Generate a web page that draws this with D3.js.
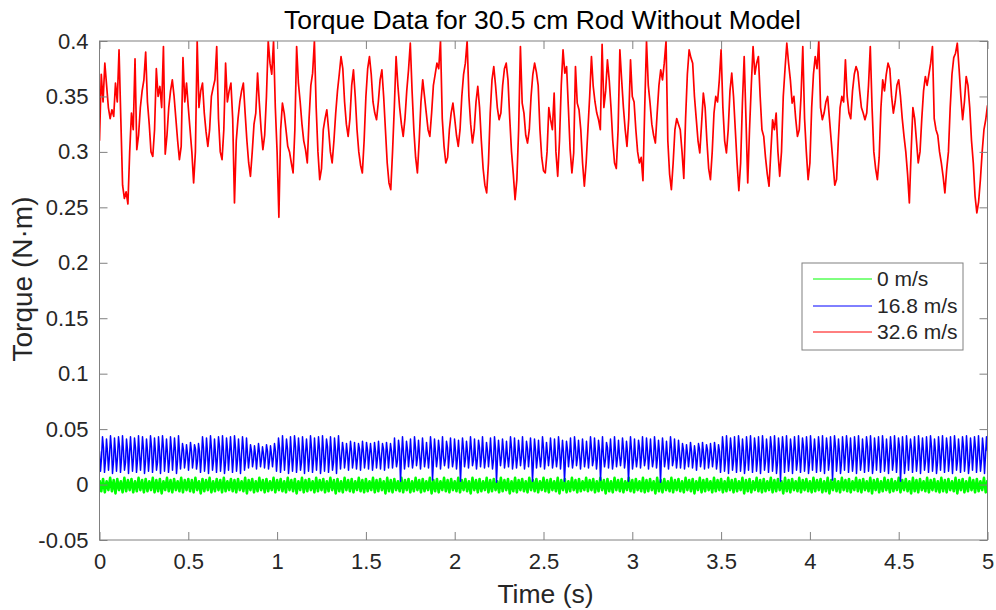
<!DOCTYPE html>
<html>
<head>
<meta charset="utf-8">
<script src="https://cdn.jsdelivr.net/npm/d3@7"></script>
<style>
  body { margin: 0; background: #fff; }
  svg { display: block; font-family: "Liberation Sans", Arial, Helvetica, sans-serif; }
</style>
</head>
<body>
<div id="chart"></div>
<script>
// Data (torque in mN·m, samples evenly spaced from 0 to 5 s)
const timeEnd = 5
const xTicks = [0, 0.5, 1, 1.5, 2, 2.5, 3, 3.5, 4, 4.5, 5]
const yTicks = [-0.05, 0, 0.05, 0.1, 0.15, 0.2, 0.25, 0.3, 0.35, 0.4]
const seriesNames = ['0 m/s', '16.8 m/s', '32.6 m/s']
const seriesColors = ['#00ff00', '#0000ff', '#ff0000']

const torque0 = [
  4,-6,5,-7,3,-5,6,-6,4,-8,5,-5,3,-7,6,-6,4,-5,5,-7,3,-6,6,-5,4,
  -7,5,-6,3,-5,6,-7,4,-6,5,-8,3,-5,6,-6,4,-7,5,-5,3,-6,6,-7,4,-5,
  5,-6,4,-7,6,-5,3,-8,5,-6,4,-5,6,-7,3,-6,5,-5,4,-7,6,-6,3,-5,5,
  -6,4,-7,5,-5,3,-6,6,-8,4,-5,5,-7,3,-6,6,-5,4,-7,5,-6,3,-5,6,-7,
  4,-5,5,-6,3,-7,6,-5,4,-6,5,-8,3,-5,6,-7,4,-6,5,-5,3,-7,6,-6,4,
  -5,5,-7,3,-6,6,-5,4,-8,5,-6,3,-7,6,-5,4,-6,5,-7,3,-5,6,-6,4,-7,
  5,-6,3,-5,6,-7,4,-6,5,-5,3,-8,6,-6,4,-7,5,-5,3,-6,6,-7,4,-5,5,
  -7,3,-6,6,-5,4,-7,5,-6,3,-5,6,-8,4,-6,5,-7,3,-5,6,-6,4,-7,5,-5,
  3,-6,6,-7,4,-5,5,-6,3,-8,6,-5,4,-7,5,-6,3,-5,6,-7,4,-6,5,-5,3,
  -7,6,-6,4,-5,5,-8,3,-6,6,-7,4,-5,5,-6,3,-7,6,-5,4,-6,5,-7,3,-5,
  6,-6,4,-7,5,-5,3,-6,6,-8,4,-5,5,-7,3,-6,6,-5,4,-7,5,-6,3,-5,6,
  -6,4,-5,5,-7,3,-6,6,-5,4,-8,5,-6,3,-7,6,-5,4,-6,5,-7,3,-5,6,-6,
  4,-7,5,-5,3,-6,6,-7,4,-6,5,-5,3,-8,6,-6,4,-7,5,-5,3,-6,6,-7,4,
  -5,5,-6,3,-7,6,-5,4,-6,5,-8,3,-5,6,-7,4,-6,5,-5,3,-7,6,-6,4,-5,
  5,-7,3,-6,6,-5,4,-7,5,-6,3,-5,6,-8,4,-6,5,-7,3,-5,6,-6,4,-7,5,
  -6,3,-5,6,-7,4,-6,5,-5,3,-8,6,-6,4,-7,5,-5,3,-6,6,-7,4,-5,5,-6,
  3,-7,6,-6,4,-5,5,-7,3,-6,6,-8,4,-5,5,-6,3,-7,6,-5,4,-6,5,-7,3,
  -5,6,-6,4,-7,5,-5,3,-6,6,-8,4,-5,5,-7,3,-6,6,-5,4,-7,5,-6,3,-5,
  6,-7,4,-5,5,-6,3,-8,6,-6,4,-7,5,-5,3,-6,6,-7,4,-5,5,-6,3,-7,6,
  -6,4,-7,5,-5,3,-6,6,-8,4,-5,5,-7,3,-6,6,-5,4,-7,5,-6,3,-5,6,-7,
  4
]

// four samples per pulse: falling, low, rising, peak
const torque16 = [
  30,12,24,43, 33,11,22,41, 29,13,26,44, 32,10,21,42, 28,12,25,43, 34,11,23,44, 30,13,20,41, 31,10,27,43,
  29,12,24,42, 33,11,22,44, 28,13,26,43, 32,10,21,41, 30,12,25,44, 34,11,23,42, 29,13,20,43, 31,10,27,44,
  33,12,24,41, 28,11,22,43, 32,13,26,42, 30,10,21,44,
  29,14,24,37, 31,15,22,36, 28,13,25,38, 30,15,23,36, 32,14,21,37,
  30,11,24,43, 33,12,22,42, 29,10,26,44, 32,13,21,41, 28,11,25,43, 34,12,23,44, 30,10,20,42, 31,13,27,43,
  29,11,24,44, 33,12,22,41, 28,10,26,43, 32,13,21,42,
  28,15,24,36, 30,16,22,35, 27,14,25,37, 29,16,23,34, 28,15,24,36, 30,14,22,35, 27,16,25,37,
  30,12,24,42, 33,11,22,44, 29,13,26,41, 32,10,21,43, 28,12,25,44, 34,11,23,42, 30,13,20,43, 31,10,27,41,
  29,12,24,44, 33,11,22,42, 28,13,26,43, 32,10,21,44, 30,12,25,41, 34,11,23,43, 29,13,20,42, 31,10,27,44,
  29,14,25,38, 31,15,23,37, 28,13,26,39, 30,15,22,38, 27,14,24,37, 32,13,25,39, 29,15,23,38, 31,14,26,37,
  28,13,22,38, 30,15,24,39, 27,14,25,37, 32,13,23,38, 29,15,26,37,
  30,15,24,42, 27,16,22,40, 32,3,25,43, 29,14,23,39, 31,16,26,41, 26,15,22,43, 33,17,24,40, 28,14,25,42,
  30,16,23,38, 27,15,26,43, 32,4,22,41, 29,16,24,40, 31,14,25,43, 26,17,23,39, 33,15,26,42, 28,16,22,41,
  30,14,24,40, 27,3,25,42, 32,16,23,39, 29,15,26,43, 31,17,22,41, 26,14,24,40, 33,16,25,43, 28,15,23,38,
  30,16,26,42, 27,14,22,43, 32,2,24,40, 29,17,25,41, 31,15,23,39, 26,16,26,43, 33,14,22,42, 28,15,24,40,
  30,17,25,43, 27,14,23,39, 32,16,26,42, 29,3,22,41, 31,15,24,40, 26,16,25,43, 33,14,23,38, 28,17,26,42,
  30,15,22,41, 27,16,24,43, 32,14,25,40, 29,3,23,39, 31,16,26,42, 26,15,22,43, 33,17,24,40, 28,14,25,41,
  30,16,23,39, 27,15,26,43, 32,17,22,42, 29,14,24,40, 31,4,25,43, 26,16,23,38, 33,15,26,41, 28,14,22,43,
  30,16,24,40, 27,17,25,42, 32,15,23,39, 29,3,26,43, 31,14,22,41, 26,16,24,40, 33,15,25,43, 28,17,23,42,
  30,14,26,41, 27,16,22,43, 32,15,24,40, 29,2,25,42, 31,16,23,39, 26,14,26,43, 33,17,22,41, 28,15,24,40,
  29,15,24,37, 31,14,22,36, 28,16,25,38, 30,15,23,35, 27,13,24,37, 32,16,22,38, 29,14,25,36, 31,15,23,37,
  28,16,24,38, 30,14,22,36,
  30,11,24,43, 33,12,22,44, 29,10,26,42, 32,13,21,43, 28,11,25,44, 34,12,23,41, 30,10,20,43, 31,13,27,44,
  29,11,24,42, 33,12,22,43, 28,10,26,44, 32,13,21,41, 30,11,25,43, 34,12,23,44, 29,10,20,42, 31,3,27,43,
  33,11,24,44, 28,12,22,41, 32,10,26,43, 30,13,21,44, 29,11,25,42, 34,12,23,43, 30,10,20,44, 31,13,27,41,
  29,11,24,43, 33,12,22,44, 28,10,26,42, 32,13,21,43, 30,4,25,44, 34,12,23,41, 29,10,20,43, 31,13,27,44,
  33,11,24,42, 28,12,22,43, 32,10,26,44, 30,13,21,41, 29,11,25,43, 34,12,23,44, 30,10,20,42, 31,13,27,43,
  29,11,24,44, 33,12,22,41, 28,10,26,43, 32,13,21,44, 30,11,25,42, 34,3,23,43, 29,10,20,44, 31,13,27,41,
  33,11,24,43, 28,12,22,44, 32,10,26,42, 30,13,21,43, 29,11,25,44, 34,12,23,41, 30,10,20,43, 31,13,27,44,
  29,11,24,42, 33,12,22,43, 28,10,26,44, 32,13,21,41, 30,11,25,43, 34,12,23,44, 29,10,20,42, 31,13,27,43,
  33,11,24,44, 28,12,22,42, 32,10,26,43,
  30
]

const torque32 = [
  310,370,345,380,360,340,330,338,332,362,345,392,330,270,258,264,253,300,335,320,384,302,315,340,355,
  365,390,345,325,300,296,320,375,350,359,340,395,298,315,340,355,365,350,330,310,293,305,385,345,362,
  340,320,300,272,300,400,340,355,362,335,318,305,320,350,358,365,395,330,300,293,320,380,345,355,362,
  330,254,310,330,345,355,362,335,310,290,278,300,325,335,371,344,320,302,315,350,400,380,370,400,340,
  300,241,320,344,335,320,305,300,290,281,320,395,362,345,325,310,302,290,330,360,371,400,340,300,275,
  285,320,330,338,320,300,290,310,335,355,370,386,375,345,325,314,330,360,374,350,320,300,288,281,310,
  350,375,386,370,345,335,329,345,365,374,350,320,290,272,266,300,340,386,360,340,325,314,330,355,374,
  398,355,320,295,281,310,345,365,350,335,320,314,335,360,370,380,375,400,330,305,290,295,320,335,344,
  330,315,305,320,350,370,380,400,350,325,308,320,345,359,340,310,285,270,263,290,335,365,377,360,340,
  329,335,360,375,380,365,330,300,280,257,275,320,395,344,335,315,308,320,350,370,380,372,360,320,295,
  283,281,300,340,329,320,353,300,278,310,360,392,371,377,340,302,281,299,377,344,338,320,290,269,290,
  320,350,386,359,345,335,329,320,397,340,355,383,365,340,310,290,285,320,392,365,340,320,305,330,383,
  350,345,320,300,290,295,274,340,400,360,344,325,315,308,335,360,374,365,380,400,310,280,266,290,320,
  330,325,320,300,276,330,370,392,385,380,350,330,310,299,325,353,340,310,285,275,300,335,350,345,365,
  392,340,310,299,320,355,371,350,320,290,265,290,344,386,330,272,320,360,395,370,380,386,350,320,314,
  295,280,269,300,329,320,335,300,278,300,350,375,398,380,365,344,350,330,314,320,350,395,330,300,275,
  290,340,370,386,375,400,340,329,335,345,350,330,310,290,270,275,310,340,350,345,383,350,335,330,355,
  370,377,372,355,340,335,329,335,360,395,340,300,285,275,295,340,365,355,370,380,375,350,335,345,360,
  365,350,330,314,300,280,254,300,340,330,310,290,300,330,355,368,360,370,380,395,330,320,315,300,290,
  278,263,284,300,340,370,385,389,398,375,350,329,345,368,360,340,310,290,260,245,255,275,300,320,329,342
]

function draw() {
  const dimensions = {
    width: 996,
    height: 610,
    left: 99.5,
    right: 987.5,
    top: 41,
    bottom: 540,
  }
  const axisColor = '#808080'
  const textColor = '#262626'

  const svg = d3.select('#chart')
    .append('svg')
    .attr('width', dimensions.width)
    .attr('height', dimensions.height)

  // Scales
  const xScale = d3.scaleLinear()
    .domain([0, timeEnd])
    .range([dimensions.left, dimensions.right])
  const yScale = d3.scaleLinear()
    .domain([-0.05, 0.4])
    .range([dimensions.bottom, dimensions.top])

  // samples -> points, mN·m -> N·m
  const toPoints = (values) => values.map((v, i) => [i * timeEnd / (values.length - 1), v / 1000])
  const series = [torque0, torque16, torque32].map((values, i) => ({
    name: seriesNames[i],
    color: seriesColors[i],
    points: toPoints(values),
  }))

  svg.append('defs').append('clipPath')
    .attr('id', 'plot-clip')
    .append('rect')
    .attr('x', dimensions.left)
    .attr('y', dimensions.top)
    .attr('width', dimensions.right - dimensions.left)
    .attr('height', dimensions.bottom - dimensions.top)

  // Lines (thicker strokes stand in for the dense raw sampling)
  const line = d3.line()
    .x(d => xScale(d[0]))
    .y(d => yScale(d[1]))

  svg.append('g')
    .attr('clip-path', 'url(#plot-clip)')
    .selectAll('path')
    .data(series)
    .join('path')
    .attr('fill', 'none')
    .attr('stroke', d => d.color)
    .attr('stroke-width', (d, i) => [2.6, 1.5, 1.7][i])
    .attr('stroke-linejoin', 'round')
    .attr('d', d => line(d.points))

  // Axes: ticks point inward on all four sides
  const fmt = d => String(d)
  const styleAxis = (g) => {
    g.select('.domain').remove()
    g.selectAll('.tick line').attr('stroke', axisColor)
    g.selectAll('.tick text')
      .attr('fill', textColor)
      .style('font-size', '22px')
      .style('font-family', '"Liberation Sans", Arial, sans-serif')
  }

  svg.append('g')
    .attr('transform', `translate(0, ${dimensions.bottom})`)
    .call(d3.axisBottom(xScale).tickValues(xTicks).tickFormat(fmt).tickSize(-8).tickPadding(13))
    .call(styleAxis)
  svg.append('g')
    .attr('transform', `translate(0, ${dimensions.top})`)
    .call(d3.axisTop(xScale).tickValues(xTicks).tickFormat('').tickSize(-8))
    .call(styleAxis)
  svg.append('g')
    .attr('transform', `translate(${dimensions.left}, 0)`)
    .call(d3.axisLeft(yScale).tickValues(yTicks).tickFormat(fmt).tickSize(-8).tickPadding(11))
    .call(styleAxis)
  svg.append('g')
    .attr('transform', `translate(${dimensions.right}, 0)`)
    .call(d3.axisRight(yScale).tickValues(yTicks).tickFormat('').tickSize(-8))
    .call(styleAxis)

  svg.append('rect')
    .attr('x', dimensions.left)
    .attr('y', dimensions.top)
    .attr('width', dimensions.right - dimensions.left)
    .attr('height', dimensions.bottom - dimensions.top)
    .attr('fill', 'none')
    .attr('stroke', axisColor)
    .attr('stroke-width', 1)

  // Title and labels
  svg.append('text')
    .attr('x', (dimensions.left + dimensions.right) / 2 - 1)
    .attr('y', 29)
    .attr('text-anchor', 'middle')
    .attr('fill', '#000')
    .style('font-size', '26.5px')
    .text('Torque Data for 30.5 cm Rod Without Model')

  svg.append('text')
    .attr('x', (dimensions.left + dimensions.right) / 2 + 2)
    .attr('y', 603)
    .attr('text-anchor', 'middle')
    .attr('fill', textColor)
    .style('font-size', '26.5px')
    .text('Time (s)')

  svg.append('text')
    .attr('transform', 'translate(32, 279) rotate(-90)')
    .attr('text-anchor', 'middle')
    .attr('fill', textColor)
    .style('font-size', '28px')
    .text('Torque (N·m)')

  // Legend
  const legend = svg.append('g')
    .attr('transform', 'translate(802, 263)')
  legend.append('rect')
    .attr('width', 161)
    .attr('height', 87)
    .attr('fill', '#fff')
    .attr('stroke', axisColor)
  const rows = legend.selectAll('g.row')
    .data(series)
    .join('g')
    .attr('class', 'row')
    .attr('transform', (d, i) => `translate(0, ${[16, 43, 69][i]})`)
  rows.append('line')
    .attr('x1', 11)
    .attr('x2', 70)
    .attr('stroke', d => d.color)
    .attr('stroke-width', 1)
  rows.append('text')
    .attr('x', 75)
    .attr('dy', '0.35em')
    .attr('fill', textColor)
    .style('font-size', '21px')
    .text(d => d.name)
}
draw()
</script>
</body>
</html>
